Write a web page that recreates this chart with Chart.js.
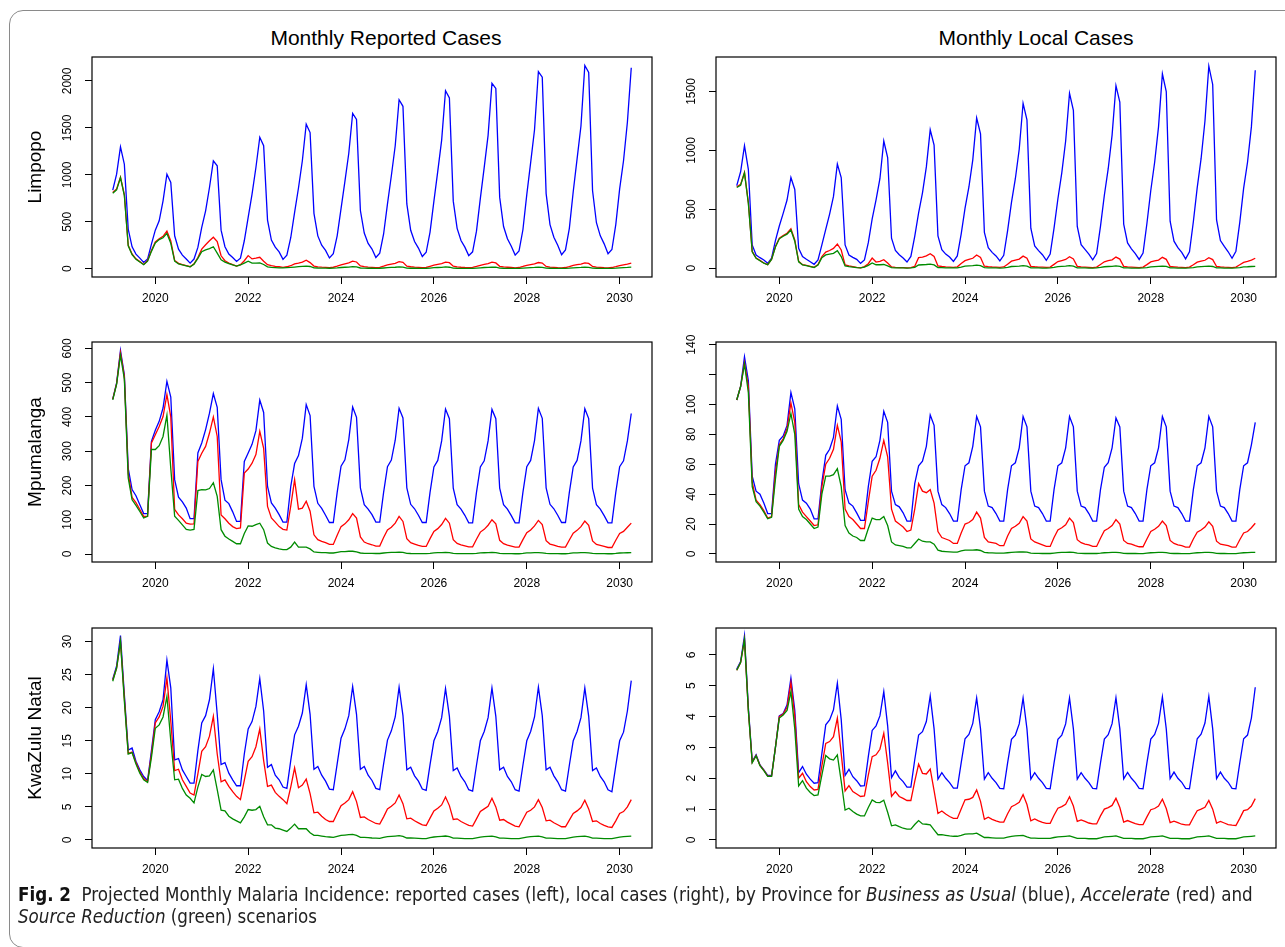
<!DOCTYPE html>
<html>
<head>
<meta charset="utf-8">
<script src="https://cdn.jsdelivr.net/npm/chart.js@4.4.0/dist/chart.umd.min.js"></script>
<style>
  body { margin: 0; background: #fff; width: 1285px; height: 947px; overflow: hidden; position: relative; font-family: "Liberation Sans", Arial, sans-serif; }
  #frame { position: absolute; left: 9px; top: 10px; width: 1300px; height: 938px; box-sizing: border-box; border: 1.5px solid #8a8a8a; border-radius: 14px; }
  canvas { position: absolute; }
  .coltitle { position: absolute; width: 400px; text-align: center; font-size: 21px; line-height: 24px; top: 26px; color: #000; }
  #caption { position: absolute; left: 18px; top: 884px; font-family: "Liberation Sans Narrow", "DejaVu Sans Condensed", sans-serif; font-size: 18.6px; line-height: 22px; color: #222; white-space: nowrap; }
  #caption b { color: #111; }
</style>
</head>
<body>
<div id="frame"></div>
<div class="coltitle" style="left:186px">Monthly Reported Cases</div>
<div class="coltitle" style="left:836px">Monthly Local Cases</div>

<canvas id="limpopoReported" width="660" height="268" style="left:0px;top:49px"></canvas>
<canvas id="limpopoLocal" width="660" height="268" style="left:624px;top:49px"></canvas>
<canvas id="mpumalangaReported" width="660" height="268" style="left:0px;top:334px"></canvas>
<canvas id="mpumalangaLocal" width="660" height="268" style="left:624px;top:334px"></canvas>
<canvas id="kznReported" width="660" height="268" style="left:0px;top:620px"></canvas>
<canvas id="kznLocal" width="660" height="268" style="left:624px;top:620px"></canvas>

<div id="caption"><b>Fig. 2</b>&nbsp; Projected Monthly Malaria Incidence: reported cases (left), local cases (right), by Province for <i>Business as Usual</i> (blue), <i>Accelerate</i> (red) and<br><i>Source Reduction</i> (green) scenarios</div>

<script>
// monthly series, Feb 2019 .. Apr 2030 (one row per calendar year)
var startYear = 2019, startMonth = 2, nMonths = 135;
var xTicks = [2020, 2022, 2024, 2026, 2028, 2030];

// Limpopo - reported
var lrBau = [
  837, 1007, 1298, 1113, 422, 234, 156, 113, 67, 103, 262,
  411, 511, 723, 1007, 918, 351, 209, 145, 103, 60, 103, 227,
  440, 617, 865, 1149, 1096, 411, 234, 156, 120, 78, 113, 298,
  546, 794, 1078, 1400, 1310, 518, 305, 230, 180, 100, 145, 330,
  600, 860, 1150, 1540, 1450, 590, 350, 250, 195, 115, 160, 350,
  640, 930, 1230, 1655, 1590, 620, 380, 270, 210, 120, 165, 370,
  690, 990, 1310, 1800, 1730, 690, 410, 290, 220, 130, 175, 390,
  720, 1040, 1370, 1895, 1820, 720, 430, 300, 230, 140, 180, 400,
  750, 1080, 1420, 1975, 1920, 760, 450, 320, 240, 145, 190, 415,
  790, 1130, 1480, 2100, 2040, 800, 470, 335, 250, 150, 200, 430,
  820, 1170, 1520, 2165, 2090, 830, 490, 350, 265, 160, 205, 470,
  850, 1150, 1560, 2140
];
var lrAcc = [
  812, 850, 975, 790, 250, 158, 105, 76, 45, 87, 195,
  285, 320, 345, 400, 295, 88, 58, 45, 33, 22, 52, 120,
  209, 255, 298, 335, 290, 138, 85, 60, 43, 28, 43, 85,
  140, 105, 113, 122, 80, 43, 32, 25, 21, 15, 21, 32,
  52, 60, 70, 90, 65, 28, 20, 17, 15, 12, 16, 28,
  42, 52, 62, 80, 72, 30, 22, 18, 15, 12, 15, 27,
  40, 50, 58, 75, 68, 28, 21, 17, 14, 11, 14, 26,
  38, 47, 55, 70, 64, 27, 20, 16, 13, 11, 14, 25,
  37, 46, 54, 70, 62, 26, 19, 16, 13, 10, 13, 24,
  36, 44, 52, 66, 60, 25, 18, 15, 12, 10, 13, 23,
  35, 43, 50, 62, 57, 24, 18, 15, 12, 10, 13, 22,
  34, 42, 50, 60
];
var lrSr = [
  805, 840, 971, 780, 245, 150, 100, 72, 43, 80, 185,
  275, 310, 330, 376, 270, 80, 52, 40, 30, 20, 48, 110,
  181, 200, 215, 234, 167, 95, 70, 55, 40, 28, 40, 60,
  80, 60, 60, 62, 45, 20, 14, 12, 10, 10, 12, 14,
  18, 22, 25, 28, 24, 10, 8, 7, 6, 5, 6, 9,
  13, 16, 18, 22, 19, 8, 6, 5, 5, 4, 5, 8,
  11, 14, 16, 20, 17, 7, 5, 5, 4, 4, 5, 7,
  11, 13, 15, 19, 16, 7, 5, 4, 4, 3, 4, 7,
  10, 13, 15, 18, 16, 7, 5, 4, 4, 3, 4, 7,
  10, 12, 14, 18, 15, 6, 5, 4, 3, 3, 4, 6,
  10, 12, 14, 17, 15, 6, 5, 4, 3, 3, 4, 6,
  10, 12, 14, 17
];

// Limpopo - local
var llBau = [
  701, 819, 1040, 839, 198, 113, 90, 71, 42, 85, 234,
  359, 466, 579, 771, 669, 169, 99, 76, 56, 34, 71, 198,
  330, 460, 610, 885, 770, 198, 113, 93, 76, 42, 71, 217,
  420, 580, 760, 1080, 940, 255, 151, 115, 87, 53, 100, 270,
  470, 640, 860, 1175, 1045, 274, 157, 120, 95, 58, 105, 290,
  510, 690, 920, 1275, 1140, 305, 175, 135, 105, 62, 110, 320,
  560, 760, 1010, 1400, 1260, 340, 190, 150, 115, 68, 120, 340,
  590, 810, 1080, 1485, 1340, 355, 200, 160, 120, 72, 125, 355,
  620, 845, 1130, 1550, 1410, 375, 215, 165, 125, 75, 130, 380,
  660, 900, 1200, 1650, 1500, 400, 230, 175, 135, 80, 140, 395,
  685, 930, 1250, 1715, 1560, 410, 235, 185, 140, 85, 145, 390,
  680, 900, 1200, 1680
];
var llAcc = [
  692, 712, 813, 560, 143, 87, 67, 45, 31, 78, 185,
  255, 277, 297, 336, 240, 59, 31, 25, 17, 8, 31, 100,
  137, 151, 169, 206, 155, 28, 20, 14, 8, 3, 14, 39,
  87, 53, 59, 73, 45, 11, 8, 6, 5, 4, 6, 17,
  90, 95, 105, 123, 100, 20, 15, 12, 10, 8, 12, 40,
  65, 75, 85, 113, 92, 18, 14, 11, 9, 7, 11, 35,
  60, 70, 78, 103, 85, 17, 13, 10, 9, 7, 10, 33,
  57, 66, 75, 98, 80, 16, 12, 10, 8, 6, 10, 32,
  55, 64, 72, 95, 78, 16, 12, 10, 8, 6, 10, 31,
  54, 62, 70, 93, 76, 15, 12, 9, 8, 6, 10, 30,
  52, 60, 68, 90, 74, 15, 11, 9, 8, 6, 10, 30,
  50, 58, 70, 85
];
var llSr = [
  685, 705, 810, 550, 140, 84, 64, 43, 30, 75, 180,
  250, 272, 290, 325, 230, 55, 29, 23, 15, 7, 28, 90,
  113, 121, 127, 149, 99, 20, 14, 10, 6, 3, 10, 25,
  45, 30, 30, 32, 20, 5, 4, 3, 3, 2, 3, 8,
  28, 30, 32, 35, 28, 6, 5, 4, 3, 3, 4, 10,
  18, 20, 22, 27, 22, 5, 4, 3, 3, 2, 3, 8,
  15, 17, 19, 22, 19, 4, 3, 3, 2, 2, 3, 7,
  14, 16, 18, 22, 18, 4, 3, 3, 2, 2, 3, 7,
  13, 15, 17, 20, 17, 4, 3, 2, 2, 2, 3, 6,
  12, 14, 16, 18, 16, 4, 3, 2, 2, 2, 3, 6,
  12, 14, 16, 18, 15, 3, 3, 2, 2, 2, 3, 6,
  12, 13, 15, 17
];

// Mpumalanga - reported
var mrBau = [
  452, 499, 594, 523, 250, 188, 170, 144, 118, 118, 329,
  361, 387, 426, 504, 458, 217, 166, 152, 134, 103, 103, 295,
  324, 363, 411, 468, 428, 217, 157, 147, 123, 95, 95, 270,
  295, 320, 360, 449, 413, 197, 149, 134, 115, 93, 93, 197,
  264, 287, 338, 436, 404, 197, 148, 133, 113, 92, 92, 180,
  256, 275, 334, 429, 399, 193, 144, 131, 115, 93, 93, 180,
  255, 274, 332, 425, 397, 193, 145, 132, 113, 92, 92, 180,
  254, 273, 330, 423, 395, 192, 144, 131, 113, 91, 91, 180,
  254, 272, 330, 422, 395, 192, 144, 131, 112, 91, 91, 180,
  255, 273, 331, 425, 396, 193, 145, 132, 113, 92, 92, 180,
  254, 273, 330, 424, 395, 192, 144, 131, 112, 91, 91, 180,
  255, 272, 330, 410
];
var mrAcc = [
  452, 497, 588, 518, 235, 165, 150, 130, 110, 110, 324,
  348, 372, 401, 465, 400, 130, 114, 103, 90, 87, 88, 270,
  294, 314, 353, 400, 343, 114, 103, 90, 80, 74, 76, 236,
  248, 265, 290, 358, 308, 139, 105, 93, 80, 72, 70, 140,
  217, 131, 134, 154, 125, 56, 42, 37, 33, 28, 28, 55,
  80, 88, 100, 118, 105, 50, 35, 30, 27, 23, 23, 48,
  70, 78, 90, 110, 95, 45, 33, 29, 25, 22, 22, 45,
  66, 74, 86, 104, 90, 42, 31, 27, 24, 21, 21, 43,
  64, 72, 84, 100, 88, 40, 30, 26, 23, 20, 20, 42,
  62, 70, 82, 98, 86, 39, 29, 26, 22, 20, 20, 41,
  61, 69, 80, 96, 84, 38, 28, 25, 22, 19, 19, 40,
  60, 66, 78, 90
];
var mrSr = [
  450, 495, 580, 510, 222, 158, 142, 124, 105, 110, 305,
  305, 316, 343, 405, 250, 110, 98, 85, 72, 70, 72, 185,
  188, 187, 191, 208, 168, 71, 52, 44, 37, 30, 30, 60,
  82, 81, 86, 90, 71, 32, 22, 18, 15, 13, 13, 20,
  35, 20, 20, 20, 15, 6, 5, 4, 4, 3, 3, 5,
  7, 7, 8, 8, 6, 3, 2, 2, 2, 1.5, 1.5, 3,
  4, 4.5, 5, 5.5, 4.5, 2, 1.5, 1.3, 1.2, 1, 1, 2,
  3.5, 4, 4.3, 4.8, 4, 1.8, 1.3, 1.2, 1, 0.9, 0.9, 1.8,
  3.3, 3.7, 4, 4.5, 3.8, 1.7, 1.2, 1.1, 1, 0.8, 0.8, 1.7,
  3.2, 3.6, 3.9, 4.3, 3.6, 1.6, 1.2, 1, 0.9, 0.8, 0.8, 1.6,
  3.1, 3.5, 3.8, 4.2, 3.5, 1.6, 1.1, 1, 0.9, 0.8, 0.8, 1.6,
  3, 3.4, 3.7, 4
];

// Mpumalanga - local
var mlBau = [
  103, 112, 132, 116, 52, 42, 40, 34, 27, 27, 60,
  76, 79, 86, 108, 97, 47, 36, 34, 30, 23.5, 23.5, 48,
  66, 70, 78, 99, 90, 43, 34, 32, 27.5, 22.5, 22.5, 45,
  62, 65, 76, 95.5, 88, 42, 33, 31.5, 27.5, 22, 22, 47,
  59, 62, 72, 93, 86, 42, 33, 31, 27, 22, 22, 43,
  59, 61, 72, 92, 85, 42, 32, 31, 27, 22, 22, 43,
  59, 61, 71, 92, 85, 42, 32, 31, 27, 22, 22, 43,
  59, 61, 71, 92, 85, 42, 32, 31, 27, 22, 22, 43,
  58, 61, 71, 91, 85, 42, 32, 31, 27, 22, 22, 43,
  59, 61, 71, 92, 85, 42, 32, 31, 27, 22, 22, 43,
  59, 61, 71, 92, 85, 42, 32, 31, 27, 22, 22, 43,
  59, 61, 73, 88
];
var mlAcc = [
  103, 112, 128, 112, 48, 36, 33, 29, 24, 25, 55,
  73, 77, 84, 101, 88, 33, 28, 25, 22, 19, 19.5, 45,
  60, 64, 70, 86, 75, 30, 25, 23, 20, 17, 17, 35,
  52, 56, 64, 76, 65, 30, 22, 20, 18, 15, 16, 30,
  47, 42, 41, 43, 34, 15, 11, 10, 9, 7, 7, 14,
  20, 21, 23, 28, 24, 11, 8, 7.5, 7, 5.5, 5.5, 12,
  17, 18.5, 20.5, 25, 22, 10, 8, 7, 6, 5, 5, 11,
  16, 17.5, 19.5, 24, 21, 9.5, 7.5, 6.5, 6, 5, 5, 10.5,
  15.5, 17, 19, 23, 20, 9, 7, 6.5, 5.5, 4.8, 4.8, 10,
  15, 16.5, 18.5, 22, 19, 9, 7, 6, 5.5, 4.6, 4.6, 10,
  14.5, 16, 18, 21.5, 18.5, 8.5, 6.5, 6, 5.5, 4.5, 4.5, 9.5,
  14, 15, 17.5, 20.5
];
var mlSr = [
  103, 112, 127, 108, 45, 35, 32, 28, 23.5, 24.5, 50,
  72, 76, 82, 94, 80, 30, 25, 23, 20, 17, 18, 40,
  52, 52, 53, 57, 45, 19, 14, 12, 11, 9, 9, 17,
  24, 23, 23, 25, 19, 8, 6, 5.5, 5, 4, 4, 7,
  10, 8.5, 8, 8, 6.5, 2.5, 1.8, 1.6, 1.4, 1.2, 1.2, 2,
  2.6, 2.6, 2.6, 2.8, 2.3, 1, 0.8, 0.7, 0.6, 0.5, 0.5, 0.8,
  1.1, 1.2, 1.3, 1.4, 1.2, 0.5, 0.4, 0.4, 0.3, 0.3, 0.3, 0.6,
  0.9, 1, 1.1, 1.2, 1, 0.5, 0.4, 0.3, 0.3, 0.3, 0.3, 0.5,
  0.8, 0.9, 1, 1.1, 0.9, 0.4, 0.3, 0.3, 0.3, 0.2, 0.2, 0.5,
  0.8, 0.9, 1, 1.1, 0.9, 0.4, 0.3, 0.3, 0.2, 0.2, 0.2, 0.5,
  0.8, 0.9, 1, 1.1, 0.9, 0.4, 0.3, 0.3, 0.2, 0.2, 0.2, 0.5,
  0.8, 0.9, 1, 1.1
];

// KwaZulu Natal - reported
var krBau = [
  24.3, 26.3, 30.9, 22, 13.6, 13.9, 11.9, 10.6, 9.6, 9.0, 13.5,
  18.2, 19.4, 21.2, 27.2, 23, 12.1, 12.3, 10.6, 9.6, 8.6, 8.6, 13.5,
  17.7, 18.8, 21.2, 25.9, 19, 11.4, 11.7, 10.1, 9.1, 8.2, 8.2, 13,
  16.8, 17.9, 20.2, 24.4, 19.5, 11.0, 11.4, 9.8, 9.1, 8.0, 7.8, 12,
  15.9, 17.2, 19.2, 23.5, 19, 10.7, 11.1, 9.8, 8.9, 7.7, 7.6, 11.5,
  15.4, 16.8, 18.8, 23.2, 19, 10.7, 11.1, 9.8, 9.0, 7.8, 7.6, 11.5,
  15.1, 16.5, 18.6, 23.1, 18.8, 10.6, 11.0, 9.7, 8.9, 7.7, 7.5, 11.4,
  15.0, 16.4, 18.5, 22.9, 18.7, 10.5, 10.9, 9.6, 8.8, 7.6, 7.4, 11.3,
  15.0, 16.4, 18.5, 23.0, 18.7, 10.6, 11.0, 9.6, 8.8, 7.6, 7.4, 11.3,
  15.0, 16.4, 18.6, 23.1, 18.8, 10.6, 11.0, 9.7, 8.8, 7.6, 7.4, 11.3,
  15.0, 16.4, 18.5, 23.0, 18.7, 10.5, 10.9, 9.6, 8.8, 7.6, 7.3, 11.2,
  15.0, 16.3, 19.5, 24.1
];
var krAcc = [
  24.2, 26, 30, 21.5, 13.1, 13.3, 11.7, 10.3, 9.3, 8.8, 13,
  17.7, 18.6, 20.2, 24.5, 18, 10.5, 10.7, 9.1, 8.1, 7.1, 6.8, 10,
  13.4, 14.1, 15.7, 18.7, 13, 8.8, 9.1, 8.1, 7.3, 6.6, 6.1, 9,
  11.9, 12.6, 14.1, 16.8, 12, 8.1, 8.3, 7.2, 6.6, 6.1, 5.5, 8,
  10.9, 7.9, 8.3, 9.2, 7, 4.1, 4.2, 3.6, 3.1, 2.8, 2.8, 4,
  5.2, 5.6, 6.1, 7.3, 5.8, 3.4, 3.5, 3.1, 2.8, 2.5, 2.4, 3.5,
  4.7, 5.1, 5.6, 6.8, 5.5, 3.2, 3.3, 2.9, 2.6, 2.3, 2.2, 3.3,
  4.4, 4.8, 5.3, 6.5, 5.2, 3.1, 3.2, 2.8, 2.5, 2.2, 2.1, 3.2,
  4.3, 4.7, 5.1, 6.3, 5.0, 3.0, 3.1, 2.7, 2.4, 2.1, 2.0, 3.1,
  4.2, 4.5, 5.0, 6.1, 4.9, 2.9, 3.0, 2.6, 2.3, 2.0, 2.0, 3.0,
  4.0, 4.4, 4.9, 6.0, 4.7, 2.8, 2.9, 2.5, 2.2, 2.0, 1.9, 2.9,
  4.0, 4.3, 5.0, 6.1
];
var krSr = [
  24, 26, 30, 21, 13.0, 13.2, 11.5, 10.1, 9.1, 8.7, 12.5,
  16.9, 17.4, 18.6, 21.7, 15, 9.1, 9.2, 7.8, 6.8, 6.3, 5.6, 8,
  9.9, 9.6, 9.7, 10.6, 7.6, 4.5, 4.4, 3.6, 3.2, 2.9, 2.6, 3.5,
  4.6, 4.5, 4.6, 5.1, 3.5, 2.3, 2.3, 1.8, 1.7, 1.5, 1.3, 1.8,
  2.4, 1.7, 1.7, 1.7, 1.1, 0.7, 0.7, 0.6, 0.5, 0.45, 0.4, 0.55,
  0.7, 0.75, 0.8, 0.85, 0.7, 0.4, 0.4, 0.35, 0.3, 0.28, 0.25, 0.4,
  0.5, 0.55, 0.6, 0.65, 0.55, 0.3, 0.3, 0.27, 0.25, 0.22, 0.2, 0.35,
  0.45, 0.5, 0.55, 0.6, 0.5, 0.28, 0.28, 0.25, 0.22, 0.2, 0.2, 0.33,
  0.45, 0.5, 0.55, 0.58, 0.48, 0.27, 0.27, 0.24, 0.22, 0.2, 0.2, 0.32,
  0.45, 0.5, 0.55, 0.58, 0.48, 0.27, 0.27, 0.24, 0.22, 0.2, 0.2, 0.32,
  0.45, 0.5, 0.55, 0.58, 0.48, 0.27, 0.27, 0.24, 0.22, 0.2, 0.2, 0.32,
  0.45, 0.5, 0.55, 0.6
];

// KwaZulu Natal - local
var klBau = [
  5.54, 5.78, 6.62, 4.3, 2.54, 2.76, 2.43, 2.27, 2.09, 2.09, 3.0,
  4.02, 4.1, 4.38, 5.24, 4.2, 2.18, 2.38, 2.13, 1.97, 1.84, 1.86, 2.8,
  3.73, 3.89, 4.22, 5.08, 3.9, 2.09, 2.29, 2.05, 1.92, 1.75, 1.76, 2.7,
  3.55, 3.7, 4.02, 4.81, 3.7, 2.02, 2.24, 2.02, 1.89, 1.71, 1.71, 2.6,
  3.4, 3.51, 3.84, 4.67, 3.6, 1.97, 2.18, 2.0, 1.86, 1.68, 1.68, 2.5,
  3.28, 3.42, 3.78, 4.6, 3.6, 1.97, 2.18, 2.0, 1.86, 1.67, 1.66, 2.5,
  3.26, 3.4, 3.76, 4.6, 3.6, 1.97, 2.18, 2.0, 1.86, 1.67, 1.66, 2.5,
  3.26, 3.4, 3.76, 4.6, 3.6, 1.97, 2.18, 2.0, 1.86, 1.67, 1.66, 2.5,
  3.27, 3.41, 3.77, 4.61, 3.6, 1.98, 2.19, 2.0, 1.86, 1.67, 1.66, 2.5,
  3.27, 3.42, 3.78, 4.64, 3.6, 1.99, 2.2, 2.0, 1.87, 1.67, 1.66, 2.5,
  3.28, 3.43, 3.79, 4.65, 3.6, 1.99, 2.2, 2.0, 1.87, 1.67, 1.66, 2.5,
  3.28, 3.4, 3.95, 4.95
];
var klAcc = [
  5.5, 5.75, 6.5, 4.2, 2.52, 2.74, 2.42, 2.26, 2.07, 2.07, 3.0,
  4.0, 4.08, 4.3, 5.1, 4.0, 2.0, 2.16, 1.89, 1.73, 1.62, 1.64, 2.4,
  3.13, 3.19, 3.35, 3.95, 2.8, 1.59, 1.76, 1.57, 1.49, 1.41, 1.43, 2.1,
  2.7, 2.76, 2.94, 3.46, 2.5, 1.41, 1.57, 1.41, 1.35, 1.28, 1.28, 1.9,
  2.46, 2.16, 2.14, 2.3, 1.6, 0.86, 0.94, 0.84, 0.76, 0.7, 0.7, 1.0,
  1.3, 1.32, 1.38, 1.62, 1.25, 0.67, 0.74, 0.67, 0.62, 0.58, 0.58, 0.85,
  1.08, 1.14, 1.22, 1.47, 1.15, 0.62, 0.68, 0.62, 0.57, 0.54, 0.54, 0.8,
  1.03, 1.08, 1.16, 1.4, 1.1, 0.6, 0.65, 0.6, 0.55, 0.52, 0.52, 0.78,
  1.0, 1.05, 1.12, 1.35, 1.05, 0.58, 0.63, 0.58, 0.53, 0.5, 0.5, 0.75,
  0.98, 1.02, 1.1, 1.32, 1.02, 0.56, 0.61, 0.56, 0.51, 0.49, 0.49, 0.73,
  0.95, 1.0, 1.06, 1.28, 1.0, 0.55, 0.6, 0.55, 0.5, 0.48, 0.47, 0.7,
  0.95, 0.98, 1.1, 1.34
];
var klSr = [
  5.5, 5.75, 6.5, 4.2, 2.5, 2.73, 2.41, 2.25, 2.06, 2.06, 3.0,
  3.95, 4.05, 4.2, 4.81, 3.6, 1.75, 1.92, 1.68, 1.54, 1.44, 1.46, 2.1,
  2.74, 2.63, 2.59, 2.76, 1.9, 0.97, 1.03, 0.92, 0.84, 0.78, 0.78, 1.05,
  1.3, 1.22, 1.21, 1.29, 0.9, 0.46, 0.49, 0.43, 0.38, 0.35, 0.35, 0.5,
  0.63, 0.52, 0.51, 0.49, 0.33, 0.17, 0.17, 0.15, 0.13, 0.12, 0.12, 0.15,
  0.19, 0.2, 0.2, 0.22, 0.15, 0.08, 0.08, 0.07, 0.06, 0.06, 0.06, 0.09,
  0.12, 0.13, 0.14, 0.15, 0.1, 0.06, 0.06, 0.05, 0.05, 0.05, 0.05, 0.08,
  0.1, 0.11, 0.12, 0.13, 0.09, 0.05, 0.05, 0.05, 0.04, 0.04, 0.04, 0.07,
  0.1, 0.11, 0.12, 0.13, 0.09, 0.05, 0.05, 0.05, 0.04, 0.04, 0.04, 0.07,
  0.1, 0.11, 0.12, 0.13, 0.09, 0.05, 0.05, 0.05, 0.04, 0.04, 0.04, 0.07,
  0.1, 0.11, 0.12, 0.13, 0.09, 0.05, 0.05, 0.05, 0.04, 0.04, 0.04, 0.07,
  0.1, 0.11, 0.12, 0.13
];

// time axis (decimal years, like an R ts with frequency 12)
var months = [];
for (var i = 0; i < nMonths; i++) {
  months.push(startYear + (startMonth - 1 + i) / 12);
}
var xMin = months[0] - 0.04 * (months[nMonths - 1] - months[0]);
var xMax = months[nMonths - 1] + 0.04 * (months[nMonths - 1] - months[0]);

var FONT = '"Liberation Sans", Arial, Helvetica, sans-serif';

function toPoints(values) {
  return values.map(function (v, i) { return { x: months[i], y: v }; });
}

// R-style axis labels parallel to the y axis, plus the plot box
var rStyleAxes = {
  id: 'rStyleAxes',
  afterDraw: function (chart) {
    var ctx = chart.ctx, area = chart.chartArea, y = chart.scales.y;
    var skip = chart.options.plugins.rStyleAxes.skip || [];
    ctx.save();
    ctx.fillStyle = '#000';
    ctx.font = '12px ' + FONT;
    ctx.textAlign = 'center';
    ctx.textBaseline = 'middle';
    y.ticks.forEach(function (t) {
      if (skip.indexOf(t.value) >= 0) return;
      var py = y.getPixelForValue(t.value);
      ctx.save();
      ctx.translate(area.left - 24, py);
      ctx.rotate(-Math.PI / 2);
      ctx.fillText(String(t.value), 0, 0);
      ctx.restore();
    });
    ctx.strokeStyle = '#000';
    ctx.lineWidth = 1.2;
    ctx.strokeRect(area.left, area.top, area.right - area.left, area.bottom - area.top);
    ctx.restore();
  }
};

function createPanel(canvasId, bau, acc, sr, yMin, yMax, yTicks, yTitle, skip) {
  var ctx = document.getElementById(canvasId).getContext('2d');
  new Chart(ctx, {
    type: 'line',
    data: {
      datasets: [
        { label: 'Business as Usual', data: toPoints(bau), borderColor: '#0000ff', order: 3 },
        { label: 'Accelerate', data: toPoints(acc), borderColor: '#ff0000', order: 2 },
        { label: 'Source Reduction', data: toPoints(sr), borderColor: '#008b00', order: 1 }
      ]
    },
    options: {
      responsive: false,
      animation: false,
      events: [],
      devicePixelRatio: 1,
      layout: { padding: { top: 8, right: 8, left: 0, bottom: 0 } },
      elements: {
        point: { radius: 0 },
        line: { borderWidth: 1.3, tension: 0, fill: false }
      },
      plugins: {
        legend: { display: false },
        tooltip: { enabled: false },
        rStyleAxes: { skip: skip || [] }
      },
      scales: {
        x: {
          type: 'linear',
          min: xMin,
          max: xMax,
          afterBuildTicks: function (axis) {
            axis.ticks = xTicks.map(function (v) { return { value: v }; });
          },
          afterFit: function (scale) { scale.height = 40; },
          border: { display: false },
          grid: { drawOnChartArea: false, drawTicks: true, tickLength: 7, color: '#000', lineWidth: 1 },
          ticks: {
            color: '#000', padding: 7, maxRotation: 0, autoSkip: false,
            font: { size: 12, family: FONT },
            callback: function (v) { return String(v); }
          }
        },
        y: {
          type: 'linear',
          min: yMin,
          max: yMax,
          afterBuildTicks: function (axis) {
            axis.ticks = yTicks.map(function (v) { return { value: v }; });
          },
          afterFit: function (scale) { scale.width = 92; },
          border: { display: false },
          grid: { drawOnChartArea: false, drawTicks: true, tickLength: 7, color: '#000', lineWidth: 1 },
          ticks: { display: false },
          title: {
            display: !!yTitle,
            text: yTitle || '',
            color: '#000',
            font: { size: 19, family: FONT },
            padding: { top: 24, bottom: 0 }
          }
        }
      }
    },
    plugins: [rStyleAxes]
  });
}

createPanel('limpopoReported', lrBau, lrAcc, lrSr, -88, 2255, [0, 500, 1000, 1500, 2000], 'Limpopo');
createPanel('limpopoLocal', llBau, llAcc, llSr, -74, 1793, [0, 500, 1000, 1500], null);
createPanel('mpumalangaReported', mrBau, mrAcc, mrSr, -23.3, 618.6, [0, 100, 200, 300, 400, 500, 600], 'Mpumalanga');
createPanel('mpumalangaLocal', mlBau, mlAcc, mlSr, -5.4, 141.8, [0, 20, 40, 60, 80, 100, 120, 140], null, [120]);
createPanel('kznReported', krBau, krAcc, krSr, -1.21, 32.05, [0, 5, 10, 15, 20, 25, 30], 'KwaZulu Natal');
createPanel('kznLocal', klBau, klAcc, klSr, -0.26, 6.87, [0, 1, 2, 3, 4, 5, 6], null);
</script>
</body>
</html>
